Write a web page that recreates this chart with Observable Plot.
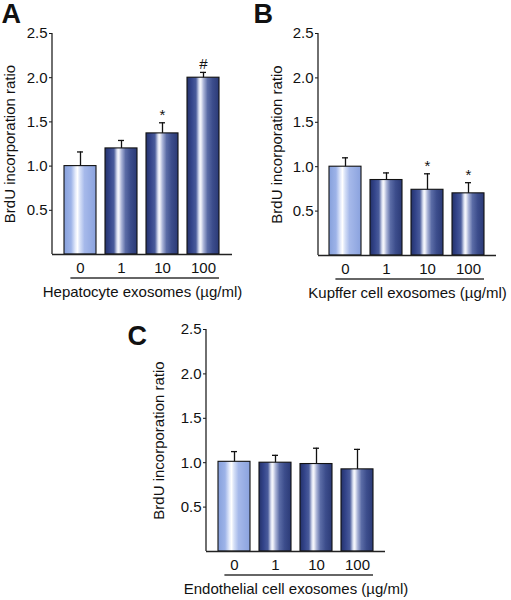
<!DOCTYPE html>
<html><head><meta charset="utf-8">
<script src="https://cdn.jsdelivr.net/npm/d3@7"></script>
<script src="https://cdn.jsdelivr.net/npm/@observablehq/plot@0.6"></script>
<style>
body{margin:0;background:#fff;}
#wrap{position:relative;width:511px;height:600px;overflow:hidden;font-family:"Liberation Sans",Arial,sans-serif;}
#wrap > svg{position:absolute;}
</style></head><body>
<div id="wrap"></div>
<script>
// ---- data ----
const doses = ["0", "1", "10", "100"];
const yTicks = [0.5, 1.0, 1.5, 2.0, 2.5];
const yLabel = "BrdU incorporation ratio";

const hepMean = [1.00, 1.20, 1.37, 2.00];
const hepSem  = [0.16, 0.09, 0.12, 0.06];
const hepSig  = ["", "", "*", "#"];
const hepLabel = "Hepatocyte exosomes (µg/ml)";

const kupMean = [1.00, 0.85, 0.74, 0.70];
const kupSem  = [0.10, 0.08, 0.18, 0.12];
const kupSig  = ["", "", "*", "*"];
const kupLabel = "Kupffer cell exosomes (µg/ml)";

const endMean = [1.01, 1.00, 0.985, 0.925];
const endSem  = [0.115, 0.083, 0.178, 0.225];
const endSig  = ["", "", "", ""];
const endLabel = "Endothelial cell exosomes (µg/ml)";

const wrap = document.getElementById("wrap");
const FONT = '"Liberation Sans", Arial, sans-serif';

// gradient defs
const defs = d3.select(wrap).append("svg").attr("width", 0).attr("height", 0)
  .style("position", "absolute").style("left", "0").style("top", "0").append("defs");
function grad(id, stops) {
  const g = defs.append("linearGradient").attr("id", id).attr("x1", 0).attr("x2", 1).attr("y1", 0).attr("y2", 0);
  stops.forEach(([o, c]) => g.append("stop").attr("offset", o).attr("stop-color", c));
}
grad("gradLight", [["0%", "#86a0dc"], ["22%", "#9db3e8"], ["36%", "#e6ecfb"], ["42%", "#ffffff"], ["50%", "#d6e0f7"], ["64%", "#a6b9ea"], ["100%", "#8aa2de"]]);
grad("gradDark", [["0%", "#24326a"], ["14%", "#33448a"], ["28%", "#4a5c9c"], ["38%", "#dfe4f3"], ["43%", "#f6f7fc"], ["52%", "#a8b2d6"], ["64%", "#5b6ca6"], ["80%", "#3c4d8c"], ["100%", "#2b3a76"]]);

function panel(p) {
  const data = doses.map((d, i) => ({dose: d, mean: p.mean[i], upper: p.mean[i] + p.sem[i], sig: p.sig[i]}));
  const plot = Plot.plot({
    width: p.width, height: p.height,
    marginTop: p.mt, marginBottom: p.mb, marginLeft: p.ml, marginRight: p.mr,
    style: {fontFamily: FONT, fontSize: "15px", color: "#111", background: "transparent", overflow: "visible"},
    x: {domain: doses, paddingInner: 0.21, paddingOuter: 0.264, label: null},
    y: {domain: [0, 2.5], label: null},
    marks: [
      Plot.axisY({ticks: yTicks, tickFormat: d3.format(".1f"), tickSize: 3, tickPadding: 2, label: null}),
      Plot.axisX({tickSize: 0, tickPadding: 8, label: null}),
      Plot.barY(data, {x: "dose", y: "mean", fill: d => d.dose === doses[0] ? "url(#gradLight)" : "url(#gradDark)", stroke: "#111", strokeWidth: 1.1}),
      Plot.ruleX(data, {x: "dose", y1: "mean", y2: "upper", stroke: "#111", strokeWidth: 1.3}),
      Plot.tickY(data, {x: "dose", y: "upper", insetLeft: 13, insetRight: 13, stroke: "#111", strokeWidth: 1.3}),
      Plot.text(data, {x: "dose", y: "upper", text: "sig", lineAnchor: "bottom", dy: -3, fontSize: 15}),
      Plot.ruleY([0], {stroke: "#222", strokeWidth: 1.3}),
      Plot.text([yLabel], {text: d => d, frameAnchor: "left", textAnchor: "middle", rotate: -90, dx: -p.labelDx, fontSize: 15}),
      Plot.text([p.xLabel], {text: d => d, frameAnchor: "bottom", dy: 42, fontSize: 15}),
      Plot.text([p.letter], {text: d => d, frameAnchor: "top-left", textAnchor: "start", lineAnchor: "top", dx: p.letterDx, dy: p.letterDy, fontSize: 27, fontWeight: "bold"})
    ]
  });
  plot.style.left = p.left + "px";
  plot.style.top = p.top + "px";
  const xs = plot.scale("x"), ys = plot.scale("y");
  const svg = d3.select(plot);
  // y axis line
  svg.append("line")
    .attr("x1", xs.range[0]).attr("x2", xs.range[0])
    .attr("y1", ys.apply(0)).attr("y2", ys.apply(2.5))
    .attr("stroke", "#222").attr("stroke-width", 1.3);
  // underline under dose labels
  const uy = ys.apply(0) + 24;
  svg.append("line")
    .attr("x1", xs.apply(doses[0]) + xs.bandwidth * 0.2)
    .attr("x2", xs.apply(doses[doses.length - 1]) + xs.bandwidth)
    .attr("y1", uy).attr("y2", uy)
    .attr("stroke", "#333").attr("stroke-width", 1.4);
  wrap.appendChild(plot);
}

panel({letter: "A", mean: hepMean, sem: hepSem, sig: hepSig, xLabel: hepLabel,
  left: 0, top: 0, width: 250, height: 310, mt: 33, mb: 56, ml: 52, mr: 18,
  labelDx: 42, letterDx: -51, letterDy: -30});
panel({letter: "B", mean: kupMean, sem: kupSem, sig: kupSig, xLabel: kupLabel,
  left: 255, top: 0, width: 256, height: 310, mt: 33, mb: 55, ml: 63, mr: 15,
  labelDx: 41, letterDx: -65, letterDy: -30});
panel({letter: "C", mean: endMean, sem: endSem, sig: endSig, xLabel: endLabel,
  left: 110, top: 300, width: 290, height: 300, mt: 29, mb: 49, ml: 96, mr: 15,
  labelDx: 47, letterDx: -79, letterDy: -4});
</script>
</body></html>
